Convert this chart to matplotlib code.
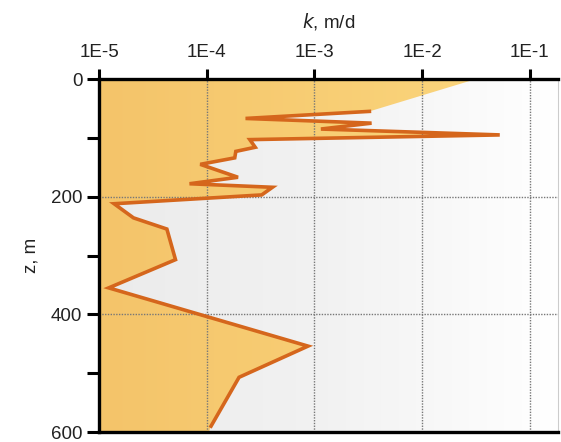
import numpy as np
import matplotlib
matplotlib.use("Agg")
import matplotlib.pyplot as plt
from matplotlib.patches import Polygon
from matplotlib.colors import LinearSegmentedColormap

plt.rcParams['font.family'] = ['Liberation Sans', 'DejaVu Sans']

# k profile (log10 k, m/d) vs depth z (m)
log_k = [-2.49, -3.64, -2.47, -2.94, -1.28, -3.60, -3.55, -3.73, -3.74, -4.06,
         -3.71, -4.16, -3.39, -3.49, -4.86, -4.68, -4.37, -4.29, -4.91, -3.06,
         -3.70, -3.96]
depth = [55, 67, 75, 85, 95, 103, 116, 123, 134, 145,
         167, 178, 184, 197, 212, 236, 255, 307, 355, 454,
         507, 590]

# edges of the shaded region above and below the profile
top_edge_logk = -1.50
bottom_edge_logk = -3.98

x_ticks = [1e-5, 1e-4, 1e-3, 1e-2, 1e-1]
x_tick_labels = ['1E-5', '1E-4', '1E-3', '1E-2', '1E-1']
y_major = [0, 200, 400, 600]
y_minor = [100, 300, 500]

k = 10.0 ** np.array(log_k)

fig = plt.figure(figsize=(5.61, 4.42), dpi=100)
ax = fig.add_axes([0.1765, 0.0226, 0.818, 0.7986])
ax.set_xscale('log')
xmin, xmax = 1e-5, 10 ** -0.74
ax.set_xlim(xmin, xmax)
ax.set_ylim(600, 0)

# grey background gradient
grey = LinearSegmentedColormap.from_list('g', ['#ebebeb', '#f2f2f2', '#ffffff'])
grad = np.linspace(0, 1, 256).reshape(1, -1)
ax.imshow(grad, cmap=grey, extent=[0, 1, 0, 1], transform=ax.transAxes,
          aspect='auto', zorder=0)

# orange region left of the profile
verts = [(xmin, 0), (10 ** top_edge_logk, 0)]
verts += list(zip(k, depth))
verts += [(10 ** bottom_edge_logk, 600), (xmin, 600)]
poly = Polygon(verts, closed=True, facecolor='none', edgecolor='none',
               transform=ax.transData)
ax.add_patch(poly)
orange = LinearSegmentedColormap.from_list('o', ['#f4c46a', '#fcd87f'])
im = ax.imshow(grad, cmap=orange, extent=[0, 1, 0, 1], transform=ax.transAxes,
               aspect='auto', zorder=1)
im.set_clip_path(poly)

ax.plot(k, depth, color='#d5661c', linewidth=2.6, zorder=4,
        solid_joinstyle='miter')

for xv in x_ticks[1:]:
    ax.axvline(xv, color='#777777', linestyle=(0, (1, 1)), linewidth=1.0, zorder=3)
for yv in [200, 400]:
    ax.axhline(yv, color='#777777', linestyle=(0, (1, 1)), linewidth=1.0, zorder=3)

ax.xaxis.tick_top()
ax.xaxis.set_label_position('top')
ax.set_xticks(x_ticks)
ax.set_xticklabels(x_tick_labels)
ax.xaxis.set_minor_locator(matplotlib.ticker.NullLocator())
ax.set_yticks(y_major)
ax.set_yticks(y_minor, minor=True)
ax.tick_params(axis='x', which='major', direction='out', length=7, width=2.2,
               labelsize=13.5, pad=6, color='black', labelcolor='#222222')
ax.tick_params(axis='y', which='both', direction='out', length=9, width=2.2,
               labelsize=13.5, pad=3, color='black', labelcolor='#222222')

ax.set_xlabel('$k$, m/d', fontsize=13.5, labelpad=12, color='#222222')
ax.set_ylabel('z, m', fontsize=13.5, labelpad=8, color='#222222')

for side in ['top', 'left', 'bottom']:
    ax.spines[side].set_linewidth(2.4)
    ax.spines[side].set_color('black')
ax.spines['right'].set_linewidth(0.8)
ax.spines['right'].set_color('#cccccc')
for s in ax.spines.values():
    s.set_zorder(5)

fig.savefig('out.png', dpi=100)
